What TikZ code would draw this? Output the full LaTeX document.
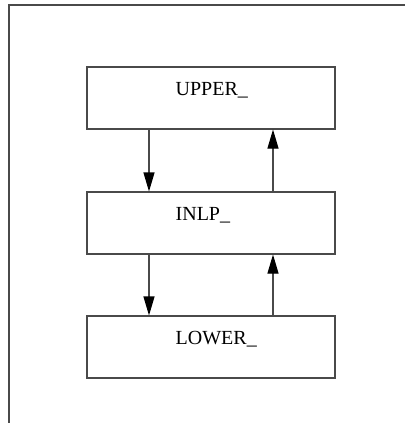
\documentclass[tikz,border=0pt]{standalone}
\usepackage{fontspec}
\setmainfont{Liberation Serif}
\usetikzlibrary{positioning, arrows.meta}
\definecolor{LineGray}{HTML}{4A4A4A}

\begin{document}
\begin{tikzpicture}[
  x=1pt, y=-1pt, every node/.style={font=\fontsize{20}{24}\selectfont},
  layer/.style={draw=LineGray, line width=1.1pt, minimum width=248pt,
    minimum height=62pt, inner sep=0pt},
  tag/.style={anchor=base west, inner sep=0pt},
  arr/.style={-{Triangle[length=19pt, width=11pt, color=black, fill=black]},
    line width=1.1pt, LineGray}
]
  \useasboundingbox (0,0) rectangle (405,423);

  % Open frame
  \draw[LineGray, line width=1.1pt] (9,423) -- (9,5) -- (405,5);

  % Layers
  \node[layer] (upper) at (211,98) {};
  \node[layer] (inlp) at (211,223) {};
  \node[layer] (lower) at (211,347) {};

  % Layer names
  \node[tag] at ([xshift=89pt, yshift=-29pt]upper.north west) {UPPER\_};
  \node[tag] at ([xshift=89pt, yshift=-29pt]inlp.north west) {INLP\_};
  \node[tag] at ([xshift=89pt, yshift=-29pt]lower.north west) {LOWER\_};

  % Calls down
  \draw[arr] ([xshift=-62pt]upper.south) -- ([xshift=-62pt]inlp.north);
  \draw[arr] ([xshift=-62pt]inlp.south) -- ([xshift=-62pt]lower.north);
  % Returns up
  \draw[arr] ([xshift=62pt]inlp.north) -- ([xshift=62pt]upper.south);
  \draw[arr] ([xshift=62pt]lower.north) -- ([xshift=62pt]inlp.south);
\end{tikzpicture}
\end{document}
